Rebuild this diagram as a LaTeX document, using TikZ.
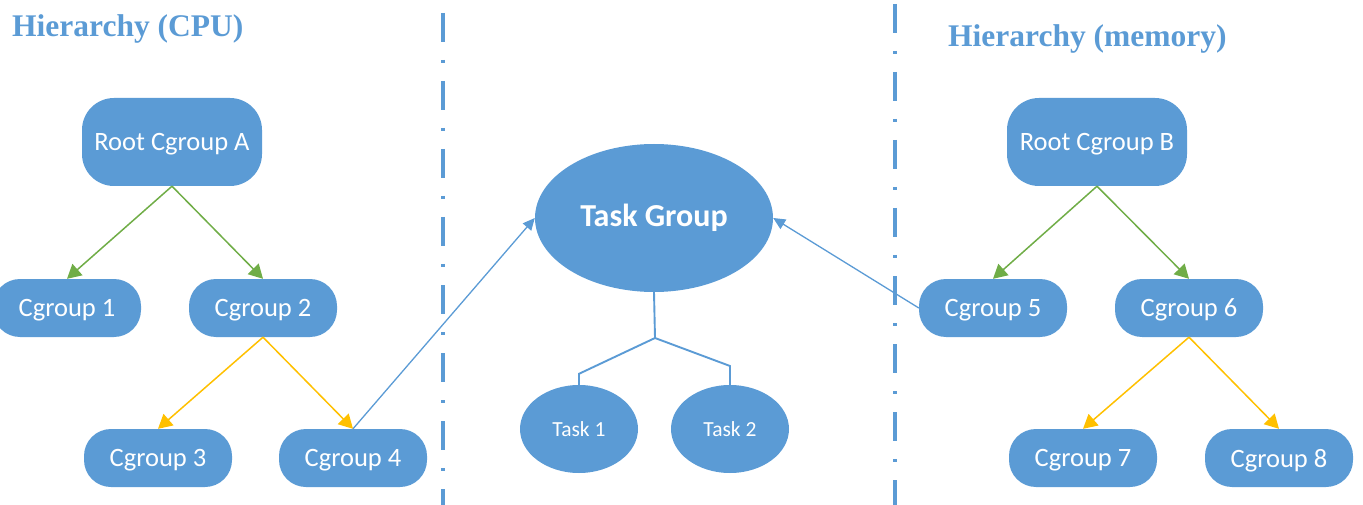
\documentclass[tikz,border=0pt]{standalone}
\usepackage{fontspec}
\setmainfont{Carlito}
\newfontfamily\titlefont{Liberation Serif}
\usetikzlibrary{arrows.meta,shapes.geometric}
\definecolor{nodeblue}{HTML}{5B9BD5}
\definecolor{titleblue}{HTML}{5B9BD5}
\definecolor{arrgreen}{HTML}{70AD47}
\definecolor{arryellow}{HTML}{FFC000}
\begin{document}
\begin{tikzpicture}[x=1pt,y=-1pt,
  cg/.style={rectangle, rounded corners=27pt, fill=nodeblue, draw=none, text=white,
    minimum width=148pt, minimum height=58pt, inner sep=0pt, text depth=0pt,
    font=\fontsize{26.5}{30}\selectfont},
  rootbox/.style={cg, rounded corners=32pt, minimum width=180pt, minimum height=88pt},
  tgell/.style={ellipse, fill=nodeblue, draw=none, text=white, inner sep=0pt,
    minimum width=238pt, minimum height=148pt, font=\fontsize{32}{36}\selectfont\bfseries},
  taskell/.style={ellipse, fill=nodeblue, draw=none, text=white, inner sep=0pt,
    minimum width=118pt, minimum height=88pt, font=\fontsize{21.5}{24}\selectfont},
  title/.style={anchor=base west, text=titleblue, inner sep=0pt,
    font=\titlefont\fontsize{31.5}{36}\selectfont\bfseries},
  greenarr/.style={draw=arrgreen, line width=1.5pt, -{Triangle[length=14pt,width=15pt]}},
  yellarr/.style={draw=arryellow, line width=1.5pt, -{Triangle[length=14pt,width=15pt]}},
  bluearr/.style={draw=nodeblue, line width=1.3pt, -{Triangle[length=12pt,width=11pt]}},
  bluetree/.style={draw=nodeblue, line width=1.9pt},
  divider/.style={draw=nodeblue, line width=3.3pt, dash pattern=on 29pt off 18pt on 3pt off 18pt}
]
\useasboundingbox (0,0) rectangle (1363,505);

% dividers
\coordinate (dl1) at (443,-55);
\coordinate (dl2) at (443,520);
\coordinate (dr1) at (895,-64);
\coordinate (dr2) at (895,520);
\draw[divider] (dl1) -- (dl2);
\draw[divider] (dr1) -- (dr2);

% titles
\node[title] (t1) at (12,37) {Hierarchy (CPU)};
\node[title] (t2) at (948,47) {Hierarchy (memory)};

% left tree
\node[rootbox] (ra) at (172,142) {Root Cgroup A};
\node[cg] (c1) at (67,308) {Cgroup 1};
\node[cg] (c2) at (263,308) {Cgroup 2};
\node[cg] (c3) at (158,458) {Cgroup 3};
\node[cg] (c4) at (353,458) {Cgroup 4};

% right tree
\node[rootbox] (rb) at (1097,142) {Root Cgroup B};
\node[cg] (c5) at (993,308) {Cgroup 5};
\node[cg] (c6) at (1189,308) {Cgroup 6};
\node[cg] (c7) at (1083,458) {Cgroup 7};
\node[cg] (c8) at (1279,458) {Cgroup 8};

% center
\node[tgell] (tg) at (654,218) {Task Group};
\node[taskell] (k1) at (579,429) {Task 1};
\node[taskell] (k2) at (730,429) {Task 2};

% arrows
\draw[greenarr] (ra.south) -- (c1.north);
\draw[greenarr] (ra.south) -- (c2.north);
\draw[yellarr] (c2.south) -- (c3.north);
\draw[yellarr] (c2.south) -- (c4.north);
\draw[greenarr] (rb.south) -- (c5.north);
\draw[greenarr] (rb.south) -- (c6.north);
\draw[yellarr] (c6.south) -- (c7.north);
\draw[yellarr] (c6.south) -- (c8.north);

\draw[bluearr] (c4.north) -- (tg.west);
\draw[bluearr] (c5.west) -- (tg.east);

% task tree
\coordinate (jn) at (655,338);
\draw[bluetree] (tg.south) -- (jn);
\draw[bluetree] ([yshift=-8pt]k1.north) -- ++(0,-19) -- (jn) -- ([yshift=-8pt]k2.north |- 0,358) -- ([yshift=-8pt]k2.north);
\end{tikzpicture}
\end{document}
